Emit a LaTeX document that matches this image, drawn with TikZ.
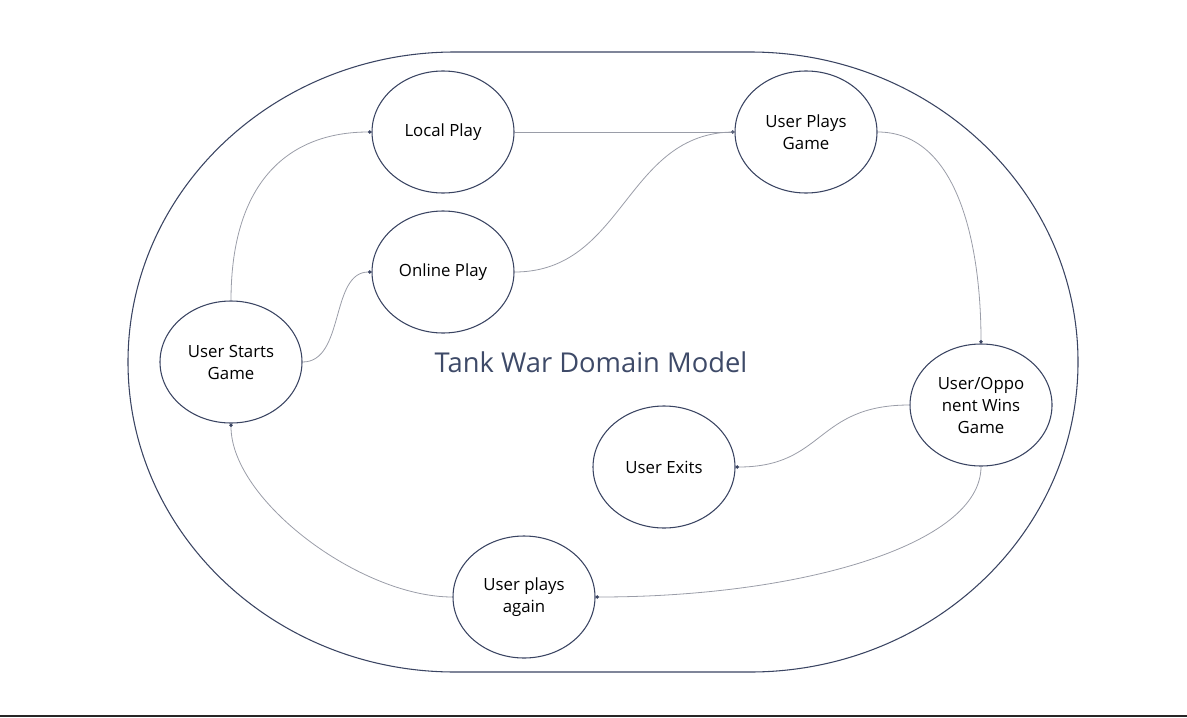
\documentclass[tikz,border=0pt]{standalone}
\usepackage{fontspec}
\setmainfont{Open Sans}
\usetikzlibrary{shapes.geometric,arrows.meta}
\definecolor{navy}{HTML}{3A4462}
\definecolor{conn}{HTML}{9A9DA8}
\definecolor{titlec}{HTML}{3E4A68}
\tikzset{
  state/.style={ellipse, draw=navy, line width=0.8pt, minimum width=106.5pt, minimum height=91.5pt, inner sep=0pt, align=center, font=\fontsize{12.6}{16.5}\selectfont, text=black},
  link/.style={draw=conn, line width=0.6pt},
  dotend/.style={link, -{Circle[length=2.6pt, fill=navy, color=navy]}},
  frame/.style={draw=navy, line width=0.8pt}
}
\begin{document}
\begin{tikzpicture}[x=0.75pt, y=-0.75pt]
\useasboundingbox (0,0) rectangle (1187,717);
% outer frame
\draw[frame] (455,52) -- (750,52)
  arc[start angle=-90, end angle=90, x radius=328, y radius=310]
  -- (455,672)
  arc[start angle=90, end angle=270, x radius=327, y radius=310] -- cycle;
% bottom rule
\draw[line width=1.5pt, color=black!85] (0,716) -- (1187,716);
% nodes
\node[state] (lp) at (443,132) {Local Play};
\node[state] (op) at (443,272) {Online Play};
\node[state] (upg) at (806,132) {User Plays\\Game};
\node[state] (usg) at (231,362) {User Starts\\Game};
\node[state] (win) at (981,405) {User/Oppo\\nent Wins\\Game};
\node[state] (ex) at (664,467) {User Exits};
\node[state] (again) at (524,597) {User plays\\again};
\node[font=\fontsize{20.5}{24}\selectfont, text=titlec] (title) at (591,362) {Tank War Domain Model};
% connectors
\draw[dotend] (usg.north) .. controls (231,180) and (290,132) .. (lp.west);
\draw[dotend] (usg.east) .. controls (345,362) and (330,272) .. (op.west);
\draw[dotend] (lp.east) -- (upg.west);
\draw[link] (op.east) .. controls (625,272) and (625,132) .. (upg.west);
\draw[dotend] (upg.east) .. controls (960,132) and (981,250) .. (win.north);
\draw[dotend] (win.west) .. controls (815,405) and (825,467) .. (ex.east);
\draw[dotend] (win.south) .. controls (981,545) and (800,597) .. (again.east);
\draw[dotend] (again.west) .. controls (360,597) and (231,500) .. (usg.south);
\end{tikzpicture}
\end{document}
